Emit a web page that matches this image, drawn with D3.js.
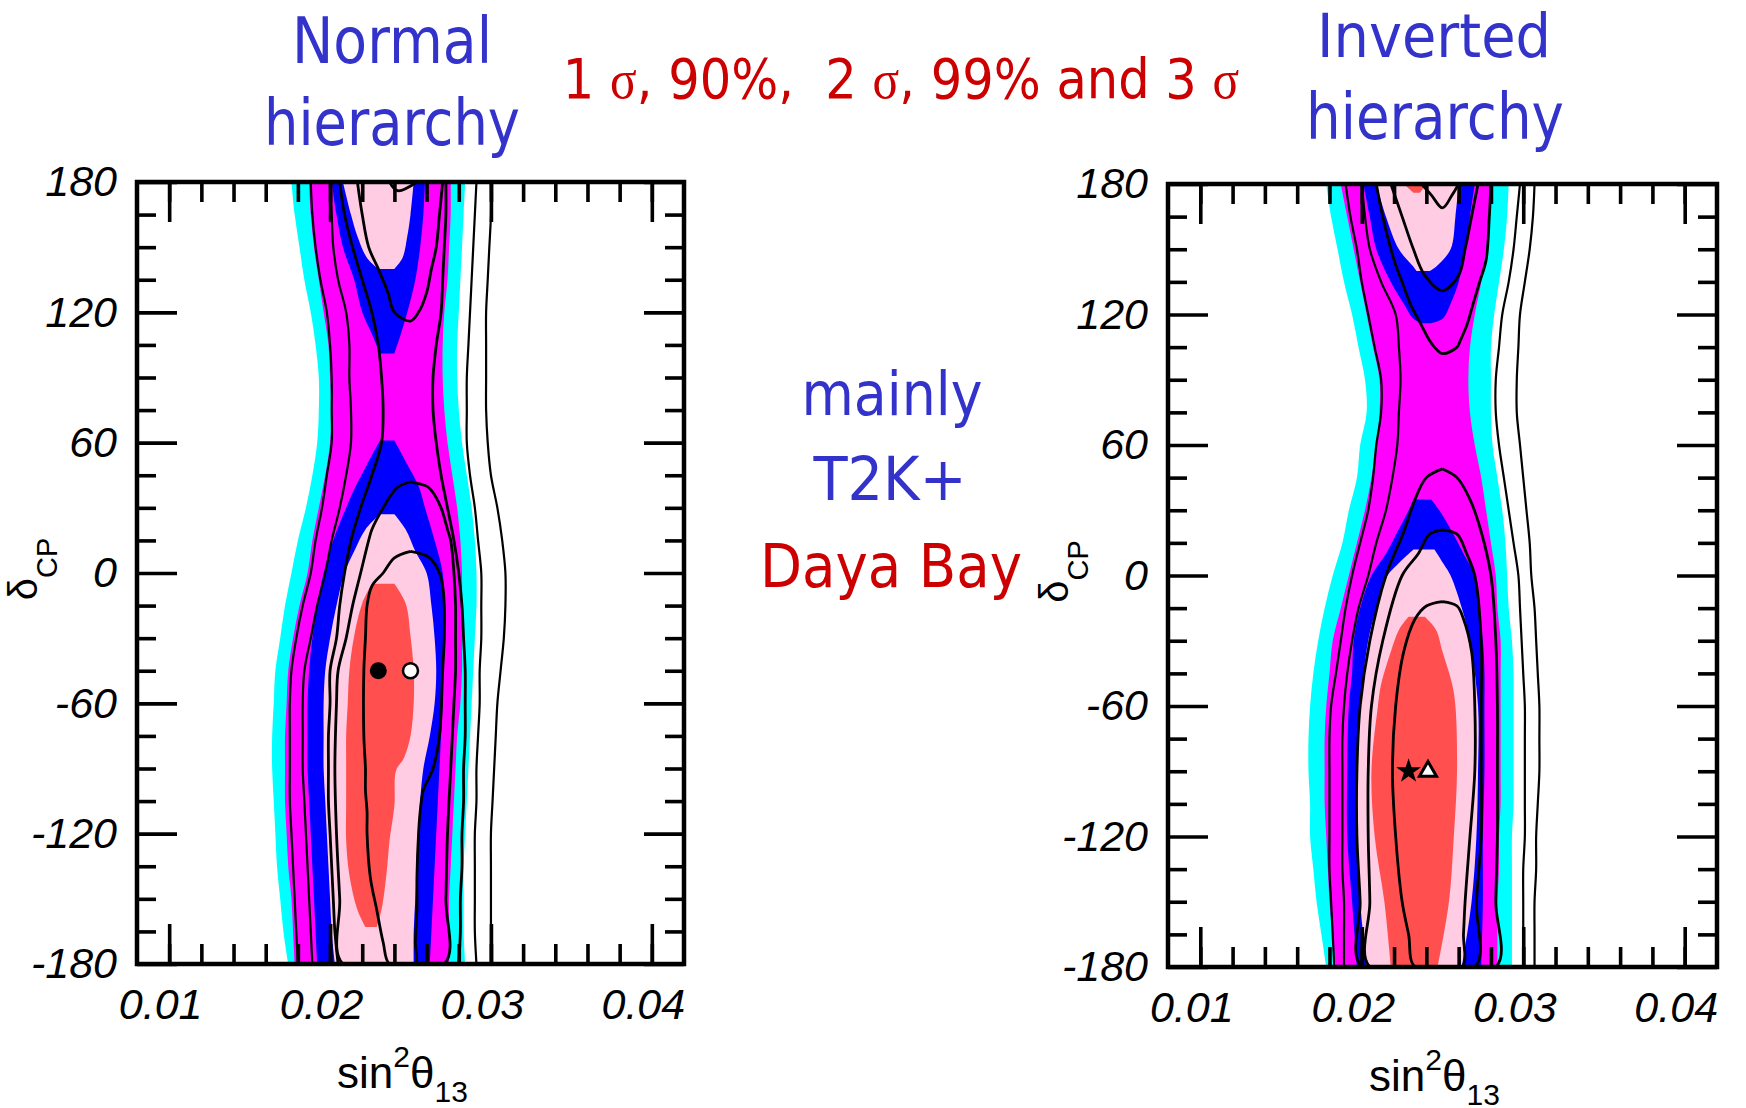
<!DOCTYPE html>
<html>
<head>
<meta charset="utf-8">
<script src="https://cdn.jsdelivr.net/npm/d3@7"></script>
<style>
  body { margin: 0; background: #fff; }
  svg { display: block; }
</style>
</head>
<body>
<svg id="chart" width="1746" height="1108"></svg>
<script>
// ---------- axis ticks ----------
const xMajorTicks = [0.01, 0.02, 0.03, 0.04];
const xMinorTicks = [0.010, 0.012, 0.014, 0.016, 0.018, 0.020, 0.022, 0.024, 0.026, 0.028,
                     0.030, 0.032, 0.034, 0.036, 0.038, 0.040];
const yMajorTicks = [-180, -120, -60, 0, 60, 120, 180];
const yMinorTicks = [-165, -150, -135, -105, -90, -75, -45, -30, -15, 15, 30, 45, 75, 90, 105, 135, 150, 165];

// δCP rows used by the full-height bands
const deltaGrid = [180, 165, 150, 135, 120, 105, 90, 75, 60, 45, 30, 15, 0,
                   -15, -30, -45, -60, -75, -90, -105, -120, -135, -150, -165, -180];

// ---------- Normal hierarchy: filled regions (sin²θ13 per δCP row) ----------
const nhCyanLeft  = [0.0176,0.0178,0.0181,0.0184,0.0188,0.0191,0.0193,0.0193,0.0192,0.0189,0.0185,0.0180,0.0176,0.0172,0.0169,0.0166,0.0165,0.0164,0.0164,0.0165,0.0166,0.0167,0.0169,0.0171,0.0174];
const nhCyanRight = [0.0284,0.0283,0.0282,0.0281,0.0280,0.0279,0.0279,0.0280,0.0282,0.0285,0.0288,0.0290,0.0291,0.0291,0.0290,0.0289,0.0288,0.0287,0.0286,0.0285,0.0284,0.0283,0.0283,0.0283,0.0284];
const nhMagentaLeft  = [0.0187,0.0188,0.0190,0.0193,0.0196,0.0199,0.0200,0.0201,0.0200,0.0197,0.0193,0.0189,0.0186,0.0181,0.0177,0.0174,0.0173,0.0172,0.0172,0.0172,0.0173,0.0174,0.0176,0.0177,0.0178];
const nhMagentaRight = [0.0275,0.0275,0.0274,0.0273,0.0271,0.0270,0.0270,0.0271,0.0273,0.0276,0.0279,0.0281,0.0282,0.0282,0.0282,0.0282,0.0281,0.0279,0.0278,0.0277,0.0276,0.0275,0.0274,0.0274,0.0274];
// islands: [δCP, left, right]
const nhBlueTop = [[180,0.0201,0.0259],[165,0.0204,0.0258],[150,0.0208,0.0256],[135,0.0215,0.0253],[120,0.0220,0.0248],[110,0.0226,0.0244],[101,0.0231,0.0240]];
const nhBlueLow = [[61,0.0231,0.0240],[50,0.0223,0.0248],[40,0.0216,0.0255],[30,0.0210,0.0259],[15,0.0202,0.0265],[0,0.0196,0.0270],[-15,0.0192,0.0271],[-30,0.0189,0.0271],[-45,0.0187,0.0270],[-60,0.0186,0.0270],[-75,0.0186,0.0269],[-90,0.0186,0.0268],[-105,0.0187,0.0267],[-120,0.0188,0.0266],[-135,0.0189,0.0265],[-150,0.0190,0.0264],[-165,0.0191,0.0263],[-180,0.0192,0.0262]];
const nhPinkTop = [[180,0.0208,0.0252],[165,0.0213,0.0250],[155,0.0217,0.0248],[145,0.0223,0.0245],[140,0.0230,0.0240]];
const nhPinkLow = [[27,0.0231,0.0240],[20,0.0222,0.0247],[10,0.0215,0.0253],[0,0.0209,0.0260],[-15,0.0204,0.0263],[-30,0.0200,0.0265],[-45,0.0197,0.0266],[-60,0.0196,0.0265],[-75,0.0196,0.0262],[-90,0.0196,0.0258],[-105,0.0197,0.0256],[-120,0.0198,0.0255],[-135,0.0199,0.0254],[-150,0.0200,0.0253],[-165,0.0201,0.0252],[-180,0.0203,0.0252]];
const nhRed = [[-5,0.0226,0.0240],[-14,0.0220,0.0247],[-29,0.0215,0.0250],[-45,0.0212,0.0252],[-60,0.0211,0.0252],[-75,0.0210,0.0250],[-85,0.0210,0.0246],[-91,0.0210,0.0241],[-107,0.0210,0.0240],[-123,0.0210,0.0237],[-139,0.0212,0.0235],[-155,0.0217,0.0232],[-163,0.0222,0.0229]];

// ---------- Normal hierarchy: contour lines ----------
const nhLine3sLeft  = [0.0188,0.0189,0.0191,0.0194,0.0198,0.0200,0.0201,0.0201,0.0201,0.0198,0.0195,0.0191,0.0188,0.0183,0.0179,0.0176,0.0175,0.0175,0.0175,0.0175,0.0176,0.0177,0.0178,0.0179,0.0180];
const nhLine3sRight = [0.0300,0.0300,0.0299,0.0298,0.0297,0.0297,0.0297,0.0297,0.0298,0.0300,0.0304,0.0307,0.0309,0.0309,0.0308,0.0306,0.0304,0.0303,0.0302,0.0301,0.0300,0.0300,0.0300,0.0300,0.0300];
const nhLine99Left  = [0.0200,0.0201,0.0202,0.0205,0.0210,0.0212,0.0212,0.0213,0.0213,0.0210,0.0206,0.0201,0.0197,0.0192,0.0188,0.0184,0.0183,0.0183,0.0183,0.0184,0.0185,0.0186,0.0187,0.0188,0.0189];
const nhLine99Right = [0.0291,0.0290,0.0289,0.0288,0.0287,0.0286,0.0285,0.0285,0.0285,0.0287,0.0290,0.0292,0.0294,0.0294,0.0294,0.0293,0.0293,0.0292,0.0291,0.0291,0.0290,0.0290,0.0290,0.0290,0.0291];
const nhLine2sLeft  = [0.0206,0.0209,0.0214,0.0220,0.0226,0.0230,0.0232,0.0233,0.0232,0.0226,0.0219,0.0213,0.0209,0.0206,0.0204,0.0200,0.0200,0.0199,0.0199,0.0199,0.0200,0.0201,0.0202,0.0203,0.0205];
const nhLine2sRight = [0.0272,0.0272,0.0271,0.0270,0.0269,0.0266,0.0264,0.0264,0.0266,0.0269,0.0273,0.0277,0.0280,0.0282,0.0283,0.0284,0.0284,0.0284,0.0283,0.0283,0.0282,0.0282,0.0281,0.0281,0.0280];
const nhLine90Top = [[180,0.0217,0.0270],[165,0.0220,0.0268],[150,0.0224,0.0266],[140,0.0230,0.0263],[129,0.0236,0.0260],[120,0.0240,0.0255],[116,0.0250,0.0250]];
const nhLine90Low = [[42,0.0250,0.0250],[40,0.0243,0.0260],[38,0.0240,0.0263],[30,0.0233,0.0269],[20,0.0226,0.0273],[15,0.0224,0.0275],[0,0.0219,0.0277],[-15,0.0214,0.0278],[-30,0.0210,0.0278],[-45,0.0205,0.0278],[-60,0.0204,0.0277],[-90,0.0203,0.0275],[-120,0.0204,0.0273],[-150,0.0206,0.0272],[-180,0.0208,0.0271]];
const nhLine1sTop = [[180,0.0237,0.0254],[176,0.0242,0.0242]];
const nhLine1sLow = [[10,0.0250,0.0250],[7,0.0240,0.0262],[0,0.0233,0.0268],[-6,0.0226,0.0270],[-15,0.0223,0.0271],[-30,0.0222,0.0271],[-45,0.0221,0.0270],[-75,0.0221,0.0268],[-90,0.0222,0.0264],[-100,0.0222,0.0258],[-110,0.0223,0.0256],[-120,0.0223,0.0255],[-140,0.0225,0.0254],[-155,0.0229,0.0254],[-170,0.0233,0.0253],[-180,0.0237,0.0253]];
// best-fit points [sin²θ13, δCP]
const nhBestFilled = [0.0230, -45];
const nhBestOpen   = [0.0250, -45];

// ---------- Inverted hierarchy: filled regions ----------
const ihCyanLeft  = [0.0178,0.0181,0.0185,0.0189,0.0194,0.0198,0.0202,0.0203,0.0199,0.0197,0.0192,0.0188,0.0182,0.0177,0.0173,0.0170,0.0168,0.0167,0.0167,0.0168,0.0168,0.0170,0.0172,0.0175,0.0178];
const ihCyanRight = [0.0291,0.0290,0.0288,0.0285,0.0282,0.0280,0.0280,0.0280,0.0281,0.0284,0.0287,0.0289,0.0290,0.0291,0.0293,0.0294,0.0294,0.0294,0.0294,0.0294,0.0293,0.0293,0.0293,0.0293,0.0293];
const ihMagentaLeft  = [0.0187,0.0191,0.0195,0.0199,0.0203,0.0207,0.0211,0.0211,0.0209,0.0206,0.0202,0.0197,0.0192,0.0187,0.0182,0.0180,0.0178,0.0177,0.0177,0.0177,0.0178,0.0179,0.0180,0.0182,0.0184];
const ihMagentaRight = [0.0281,0.0279,0.0277,0.0274,0.0270,0.0267,0.0266,0.0267,0.0270,0.0274,0.0277,0.0280,0.0283,0.0284,0.0286,0.0286,0.0286,0.0286,0.0286,0.0286,0.0285,0.0285,0.0284,0.0284,0.0284];
const ihBlueTop = [[180,0.0201,0.0270],[165,0.0205,0.0267],[150,0.0209,0.0264],[135,0.0218,0.0260],[125,0.0226,0.0255],[118,0.0232,0.0250],[116,0.0237,0.0243]];
const ihBlueLow = [[35,0.0232,0.0243],[30,0.0229,0.0248],[20,0.0222,0.0256],[10,0.0215,0.0263],[0,0.0206,0.0270],[-15,0.0199,0.0272],[-30,0.0195,0.0275],[-45,0.0194,0.0276],[-60,0.0192,0.0276],[-90,0.0191,0.0276],[-120,0.0191,0.0275],[-150,0.0194,0.0275],[-180,0.0197,0.0274]];
const ihPinkTop = [[180,0.0209,0.0260],[165,0.0215,0.0258],[150,0.0223,0.0255],[142,0.0232,0.0246],[140,0.0234,0.0242]];
const ihPinkLow = [[12,0.0232,0.0245],[5,0.0222,0.0251],[0,0.0216,0.0255],[-15,0.0209,0.0262],[-30,0.0204,0.0267],[-60,0.0199,0.0272],[-90,0.0197,0.0272],[-120,0.0197,0.0271],[-150,0.0199,0.0268],[-180,0.0203,0.0262]];
const ihRedTop = [[180,0.0226,0.0240],[176,0.0232,0.0236]];
const ihRedLow = [[-19,0.0229,0.0239],[-25,0.0223,0.0246],[-35,0.0218,0.0250],[-50,0.0212,0.0256],[-60,0.0210,0.0258],[-90,0.0206,0.0259],[-120,0.0208,0.0257],[-150,0.0214,0.0254],[-180,0.0218,0.0247]];

// ---------- Inverted hierarchy: contour lines ----------
const ihLine3sLeft  = [0.0190,0.0193,0.0197,0.0200,0.0204,0.0208,0.0212,0.0212,0.0209,0.0207,0.0204,0.0199,0.0194,0.0190,0.0187,0.0184,0.0181,0.0180,0.0180,0.0180,0.0180,0.0180,0.0181,0.0182,0.0183];
const ihLine3sRight = [0.0307,0.0306,0.0304,0.0301,0.0298,0.0297,0.0296,0.0296,0.0298,0.0300,0.0302,0.0304,0.0305,0.0307,0.0308,0.0309,0.0310,0.0310,0.0310,0.0309,0.0308,0.0308,0.0307,0.0307,0.0307];
const ihLine99Left  = [0.0200,0.0202,0.0205,0.0212,0.0221,0.0223,0.0224,0.0223,0.0222,0.0219,0.0215,0.0209,0.0204,0.0198,0.0194,0.0191,0.0189,0.0188,0.0188,0.0188,0.0188,0.0188,0.0189,0.0189,0.0189];
const ihLine99Right = [0.0298,0.0296,0.0294,0.0291,0.0287,0.0285,0.0283,0.0283,0.0285,0.0288,0.0291,0.0294,0.0297,0.0298,0.0299,0.0300,0.0301,0.0301,0.0301,0.0301,0.0301,0.0300,0.0300,0.0300,0.0300];
const ihLine2sTop = [[180,0.0209,0.0280],[165,0.0213,0.0279],[145,0.0220,0.0277],[135,0.0225,0.0273],[125,0.0230,0.0269],[115,0.0237,0.0265],[108,0.0242,0.0261],[105,0.0245,0.0259],[102,0.0250,0.0250]];
const ihLine2sLow = [[49,0.0250,0.0250],[45,0.0240,0.0259],[35,0.0233,0.0267],[20,0.0226,0.0274],[0,0.0215,0.0280],[-30,0.0205,0.0283],[-60,0.0199,0.0284],[-90,0.0197,0.0284],[-120,0.0197,0.0284],[-150,0.0199,0.0283],[-180,0.0200,0.0283]];
const ihLine90Top = [[180,0.0218,0.0272],[165,0.0225,0.0268],[150,0.0232,0.0264],[138,0.0239,0.0260],[131,0.0250,0.0250]];
const ihLine90Low = [[21,0.0250,0.0250],[19,0.0242,0.0259],[10,0.0235,0.0265],[0,0.0225,0.0270],[-30,0.0213,0.0274],[-60,0.0206,0.0274],[-90,0.0204,0.0274],[-120,0.0204,0.0274],[-150,0.0205,0.0271],[-180,0.0205,0.0270]];
const ihLine1sTop = [[180,0.0237,0.0260],[175,0.0243,0.0256],[169,0.0250,0.0250]];
const ihLine1sLow = [[-12,0.0250,0.0250],[-14,0.0240,0.0259],[-20,0.0233,0.0263],[-35,0.0226,0.0268],[-60,0.0221,0.0270],[-90,0.0219,0.0270],[-120,0.0221,0.0267],[-150,0.0225,0.0264],[-165,0.0229,0.0263],[-180,0.0233,0.0262]];
const ihBestFilled = [0.0229, -90];
const ihBestOpen   = [0.0241, -90];

// ---------- styling ----------
const COLORS = { cyan: "#00ffff", magenta: "#ff00ff", blue: "#0000ff", pink: "#ffcce4", red: "#ff4f4f" };
const BLUE_TEXT = "#3333cc", RED_TEXT = "#cc0000";
const TITLE_FONT = "'DejaVu Sans', Verdana, sans-serif";
const AXIS_FONT = "'Liberation Sans', Arial, Helvetica, sans-serif";
const OUTER_LINE_WIDTH = 2.2, INNER_LINE_WIDTH = 2.8;

const svg = d3.select("#chart");

function bandRows(L, R) { return deltaGrid.map((d, i) => [d, L[i], R[i]]); }

function drawPanel(cfg) {
  const { box, id } = cfg;
  const xs = d3.scaleLinear().domain([0.008, 0.042]).range([box.x0, box.x1]);
  const ys = d3.scaleLinear().domain([-180, 180]).range([box.y1, box.y0]);

  svg.append("clipPath").attr("id", "clip-" + id)
    .append("rect").attr("x", box.x0).attr("y", box.y0)
    .attr("width", box.x1 - box.x0).attr("height", box.y1 - box.y0);

  const g = svg.append("g").attr("clip-path", `url(#clip-${id})`);

  const area = d3.area()
    .y(r => ys(r[0])).x0(r => xs(r[1])).x1(r => xs(r[2]))
    .curve(d3.curveCatmullRom.alpha(0.5));
  const line = d3.line()
    .x(p => xs(p[0])).y(p => ys(p[1]))
    .curve(d3.curveCatmullRom.alpha(0.5));

  // filled confidence regions, outermost first
  cfg.fills.forEach(f => {
    f.shapes.forEach(rows => {
      g.append("path").attr("d", area(rows)).attr("fill", COLORS[f.color]).attr("stroke", "none");
    });
  });

  // contour lines of the second fit
  const lines = g.append("g").attr("fill", "none").attr("stroke", "#000")
    .attr("stroke-linejoin", "round");
  cfg.bands.forEach((b, k) => {
    const w = k < 2 ? OUTER_LINE_WIDTH : INNER_LINE_WIDTH;
    lines.append("path").attr("stroke-width", w).attr("d", line(deltaGrid.map((d, i) => [b[0][i], d])));
    lines.append("path").attr("stroke-width", w).attr("d", line(deltaGrid.map((d, i) => [b[1][i], d])));
  });
  cfg.islands.forEach(rows => {
    const left = rows.map(r => [r[1], r[0]]);
    let right = rows.map(r => [r[2], r[0]]).reverse();
    const last = rows[rows.length - 1];
    if (last[1] === last[2]) right = right.slice(1);
    const first = rows[0];
    if (first[1] === first[2]) right = right.slice(0, -1).concat([[first[1], first[0]]]);
    lines.append("path").attr("stroke-width", INNER_LINE_WIDTH).attr("d", line(left.concat(right)));
  });

  // best-fit markers
  cfg.markers(g, xs, ys);

  // ticks on all four sides, pointing inward
  const tickStyle = sel => {
    sel.select(".domain").remove();
    sel.selectAll(".tick line").attr("stroke", "#000").attr("stroke-width", 3.6);
    sel.selectAll(".tick text").filter(function () { return !this.textContent; }).remove();
    sel.selectAll("text").attr("font-family", AXIS_FONT).attr("font-style", "italic")
      .attr("font-size", 43).attr("fill", "#000");
  };
  const ax = svg.append("g");
  ax.append("g").attr("transform", `translate(0,${box.y1})`)
    .call(d3.axisBottom(xs).tickValues(xMinorTicks).tickSize(-20).tickFormat("")).call(tickStyle);
  ax.append("g").attr("transform", `translate(0,${box.y1})`)
    .call(d3.axisBottom(xs).tickValues(xMajorTicks).tickSize(-40).tickPadding(24)
      .tickFormat(d3.format(".2f"))).call(tickStyle)
    .selectAll("text").attr("dx", -9);
  ax.append("g").attr("transform", `translate(0,${box.y0})`)
    .call(d3.axisTop(xs).tickValues(xMinorTicks).tickSize(-20).tickFormat("")).call(tickStyle);
  ax.append("g").attr("transform", `translate(0,${box.y0})`)
    .call(d3.axisTop(xs).tickValues(xMajorTicks).tickSize(-40).tickFormat("")).call(tickStyle);
  ax.append("g").attr("transform", `translate(${box.x0},0)`)
    .call(d3.axisLeft(ys).tickValues(yMinorTicks).tickSize(-19).tickFormat("")).call(tickStyle);
  ax.append("g").attr("transform", `translate(${box.x0},0)`)
    .call(d3.axisLeft(ys).tickValues(yMajorTicks).tickSize(-40).tickPadding(20)
      .tickFormat(d => String(d))).call(tickStyle);
  ax.append("g").attr("transform", `translate(${box.x1},0)`)
    .call(d3.axisRight(ys).tickValues(yMinorTicks).tickSize(-19).tickFormat("")).call(tickStyle);
  ax.append("g").attr("transform", `translate(${box.x1},0)`)
    .call(d3.axisRight(ys).tickValues(yMajorTicks).tickSize(-40).tickFormat("")).call(tickStyle);

  // frame
  svg.append("rect").attr("x", box.x0).attr("y", box.y0)
    .attr("width", box.x1 - box.x0).attr("height", box.y1 - box.y0)
    .attr("fill", "none").attr("stroke", "#000").attr("stroke-width", 4.5);

  // axis titles
  const xt = svg.append("text").attr("x", (box.x0 + box.x1) / 2 - 8).attr("y", box.y1 + 124)
    .attr("text-anchor", "middle").attr("font-family", AXIS_FONT).attr("font-size", 44).attr("fill", "#000");
  xt.append("tspan").text("sin");
  xt.append("tspan").attr("font-size", 30).attr("dy", -21).text("2");
  xt.append("tspan").attr("dy", 21).text("θ");
  xt.append("tspan").attr("font-size", 30).attr("dy", 14).text("13");

  const yt = svg.append("text")
    .attr("transform", `translate(${box.x0 - 100},${(box.y0 + box.y1) / 2 - 4}) rotate(-90)`)
    .attr("text-anchor", "middle").attr("font-family", AXIS_FONT).attr("font-size", 40).attr("fill", "#000");
  yt.append("tspan").text("δ");
  yt.append("tspan").attr("font-size", 29).attr("dy", 20).text("CP");
}

const nhConfig = {
  id: "nh",
  box: { x0: 137, x1: 684, y0: 182, y1: 964 },
  fills: [
    { color: "cyan", shapes: [bandRows(nhCyanLeft, nhCyanRight)] },
    { color: "magenta", shapes: [bandRows(nhMagentaLeft, nhMagentaRight)] },
    { color: "blue", shapes: [nhBlueTop, nhBlueLow] },
    { color: "pink", shapes: [nhPinkTop, nhPinkLow] },
    { color: "red", shapes: [nhRed] }
  ],
  bands: [[nhLine3sLeft, nhLine3sRight], [nhLine99Left, nhLine99Right], [nhLine2sLeft, nhLine2sRight]],
  islands: [nhLine90Top, nhLine90Low, nhLine1sTop, nhLine1sLow],
  markers: (g, xs, ys) => {
    g.append("circle").attr("cx", xs(nhBestFilled[0])).attr("cy", ys(nhBestFilled[1])).attr("r", 8.5).attr("fill", "#000");
    g.append("circle").attr("cx", xs(nhBestOpen[0])).attr("cy", ys(nhBestOpen[1])).attr("r", 7.5)
      .attr("fill", "#fff").attr("stroke", "#000").attr("stroke-width", 2.5);
  }
};

const ihConfig = {
  id: "ih",
  box: { x0: 1168, x1: 1717, y0: 184, y1: 967 },
  fills: [
    { color: "cyan", shapes: [bandRows(ihCyanLeft, ihCyanRight)] },
    { color: "magenta", shapes: [bandRows(ihMagentaLeft, ihMagentaRight)] },
    { color: "blue", shapes: [ihBlueTop, ihBlueLow] },
    { color: "pink", shapes: [ihPinkTop, ihPinkLow] },
    { color: "red", shapes: [ihRedTop, ihRedLow] }
  ],
  bands: [[ihLine3sLeft, ihLine3sRight], [ihLine99Left, ihLine99Right]],
  islands: [ihLine2sTop, ihLine2sLow, ihLine90Top, ihLine90Low, ihLine1sTop, ihLine1sLow],
  markers: (g, xs, ys) => {
    g.append("path").attr("d", d3.symbol(d3.symbolStar, 190)())
      .attr("transform", `translate(${xs(ihBestFilled[0])},${ys(ihBestFilled[1])})`).attr("fill", "#000");
    g.append("path").attr("d", d3.symbol(d3.symbolTriangle, 125)())
      .attr("transform", `translate(${xs(ihBestOpen[0])},${ys(ihBestOpen[1])})`)
      .attr("fill", "#fff").attr("stroke", "#000").attr("stroke-width", 3);
  }
};

drawPanel(nhConfig);
drawPanel(ihConfig);

// ---------- headings ----------
function heading(txt, cx, baseline, size, width, color) {
  svg.append("text").attr("x", cx).attr("y", baseline).attr("text-anchor", "middle")
    .attr("font-family", TITLE_FONT).attr("font-size", size).attr("fill", color)
    .attr("textLength", width).attr("lengthAdjust", "spacingAndGlyphs").text(txt);
}
heading("Normal", 392, 63, 64, 200, BLUE_TEXT);
heading("hierarchy", 392, 145, 64, 256, BLUE_TEXT);
heading("Inverted", 1434, 57, 61, 234, BLUE_TEXT);
heading("hierarchy", 1435, 139, 64, 258, BLUE_TEXT);
heading("mainly", 892, 415, 60, 181, BLUE_TEXT);
heading("T2K+", 890, 500, 60, 153, BLUE_TEXT);
heading("Daya Bay", 891, 587, 60, 262, RED_TEXT);

// confidence levels line, σ set in a serif face; narrowed horizontally to the heading width
const levels = svg.append("text")
  .attr("transform", "translate(901,98) scale(0.9,1)")
  .attr("text-anchor", "middle")
  .attr("font-family", TITLE_FONT).attr("font-size", 55).attr("fill", RED_TEXT)
  .style("white-space", "pre");
const sigma = s => levels.append("tspan").attr("font-family", "'Liberation Serif', 'Times New Roman', serif").text(s);
levels.append("tspan").text("1 "); sigma("σ");
levels.append("tspan").text(", 90%,  2 "); sigma("σ");
levels.append("tspan").text(", 99% and 3 "); sigma("σ");
</script>
</body>
</html>
